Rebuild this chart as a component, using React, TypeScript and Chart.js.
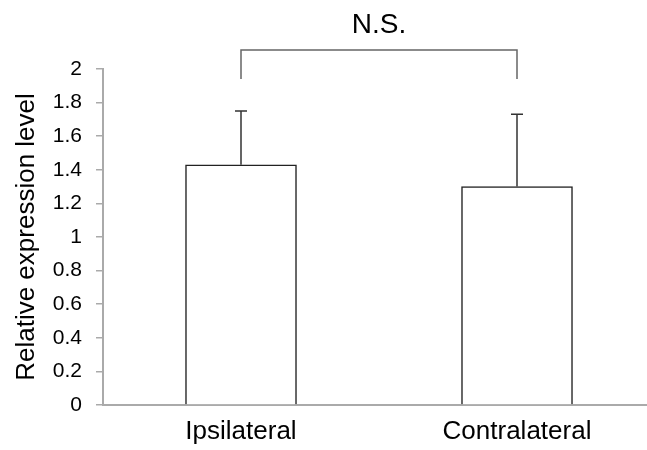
import React, { useEffect, useRef } from "react";
import { Chart, registerables } from "chart.js";

Chart.register(...registerables);

const categories = ["Ipsilateral", "Contralateral"];
const means = [1.43, 1.30];
const errors = [0.32, 0.43];
const yTicks = [0, 0.2, 0.4, 0.6, 0.8, 1, 1.2, 1.4, 1.6, 1.8, 2];
const sigLabel = "N.S.";
const bracketTop = 2.113;
const bracketBottom = 1.94;
const yTitle = "Relative expression level";

const FONT = "'Liberation Sans', Arial, sans-serif";

const overlayPlugin = {
  id: "overlay",
  afterDatasetsDraw(chart: any) {
    const ctx = chart.ctx;
    const xs = chart.scales.x;
    const ys = chart.scales.y;
    ctx.save();
    // error bars
    ctx.strokeStyle = "#333";
    ctx.lineWidth = 1.5;
    means.forEach((m, i) => {
      const x = xs.getPixelForValue(i);
      const y0 = ys.getPixelForValue(m);
      const y1 = ys.getPixelForValue(m + errors[i]);
      ctx.beginPath();
      ctx.moveTo(x, y0);
      ctx.lineTo(x, y1);
      ctx.moveTo(x - 6, y1);
      ctx.lineTo(x + 6, y1);
      ctx.stroke();
    });
    // bracket
    const xa = xs.getPixelForValue(0);
    const xb = xs.getPixelForValue(1);
    const yt = ys.getPixelForValue(bracketTop);
    const yb = ys.getPixelForValue(bracketBottom);
    ctx.strokeStyle = "#666";
    ctx.lineWidth = 1.5;
    ctx.beginPath();
    ctx.moveTo(xa, yb);
    ctx.lineTo(xa, yt);
    ctx.lineTo(xb, yt);
    ctx.lineTo(xb, yb);
    ctx.stroke();
    ctx.fillStyle = "#000";
    ctx.font = `28px ${FONT}`;
    ctx.textAlign = "center";
    ctx.textBaseline = "alphabetic";
    ctx.fillText(sigLabel, (xa + xb) / 2, yt - 17);
    ctx.restore();
  },
};

export default function App() {
  const ref = useRef<HTMLCanvasElement>(null);
  useEffect(() => {
    document.body.style.margin = "0";
    const chart = new Chart(ref.current!, {
      type: "bar",
      data: {
        datasets: [
          {
            data: means.map((v, i) => ({ x: i, y: v })),
            backgroundColor: "#ffffff",
            borderColor: "#222",
            borderWidth: 1.5,
            barThickness: 111,
          },
        ],
      },
      options: {
        animation: false,
        responsive: false,
        layout: { padding: { top: 69, right: 0, left: 0, bottom: 0 } },
        plugins: { legend: { display: false }, tooltip: { enabled: false } },
        scales: {
          x: {
            type: "linear",
            min: -0.5,
            max: 1.471,
            offset: false,
            afterBuildTicks: (s: any) => {
              s.ticks = categories.map((_, i) => ({ value: i }));
            },
            afterFit: (s: any) => {
              s.height = 45;
            },
            ticks: {
              callback: (v: any) => categories[v] ?? "",
              color: "#000",
              font: { family: FONT, size: 26 },
              padding: 11,
              maxRotation: 0,
              autoSkip: false,
            },
            grid: { display: false, drawTicks: false, offset: false },
            border: { display: true, color: "#aaa", width: 2 },
          },
          y: {
            min: 0,
            max: 2,
            afterBuildTicks: (s: any) => {
              s.ticks = yTicks.map((v) => ({ value: v }));
            },
            afterFit: (s: any) => {
              s.width = 103;
            },
            ticks: {
              callback: (v: any) => String(v),
              color: "#000",
              font: { family: FONT, size: 21 },
              padding: 14,
            },
            grid: {
              drawOnChartArea: false,
              tickLength: 7,
              color: "#aaa",
              lineWidth: 1.5,
            },
            border: { display: true, color: "#aaa", width: 2 },
            title: {
              display: true,
              text: yTitle,
              color: "#000",
              font: { family: FONT, size: 26 },
              padding: { top: 11, bottom: 0 },
            },
          },
        },
      },
      plugins: [overlayPlugin],
    });
    return () => chart.destroy();
  }, []);
  return (
    <div style={{ width: 647, height: 450 }}>
      <canvas ref={ref} width={647} height={450} />
    </div>
  );
}
